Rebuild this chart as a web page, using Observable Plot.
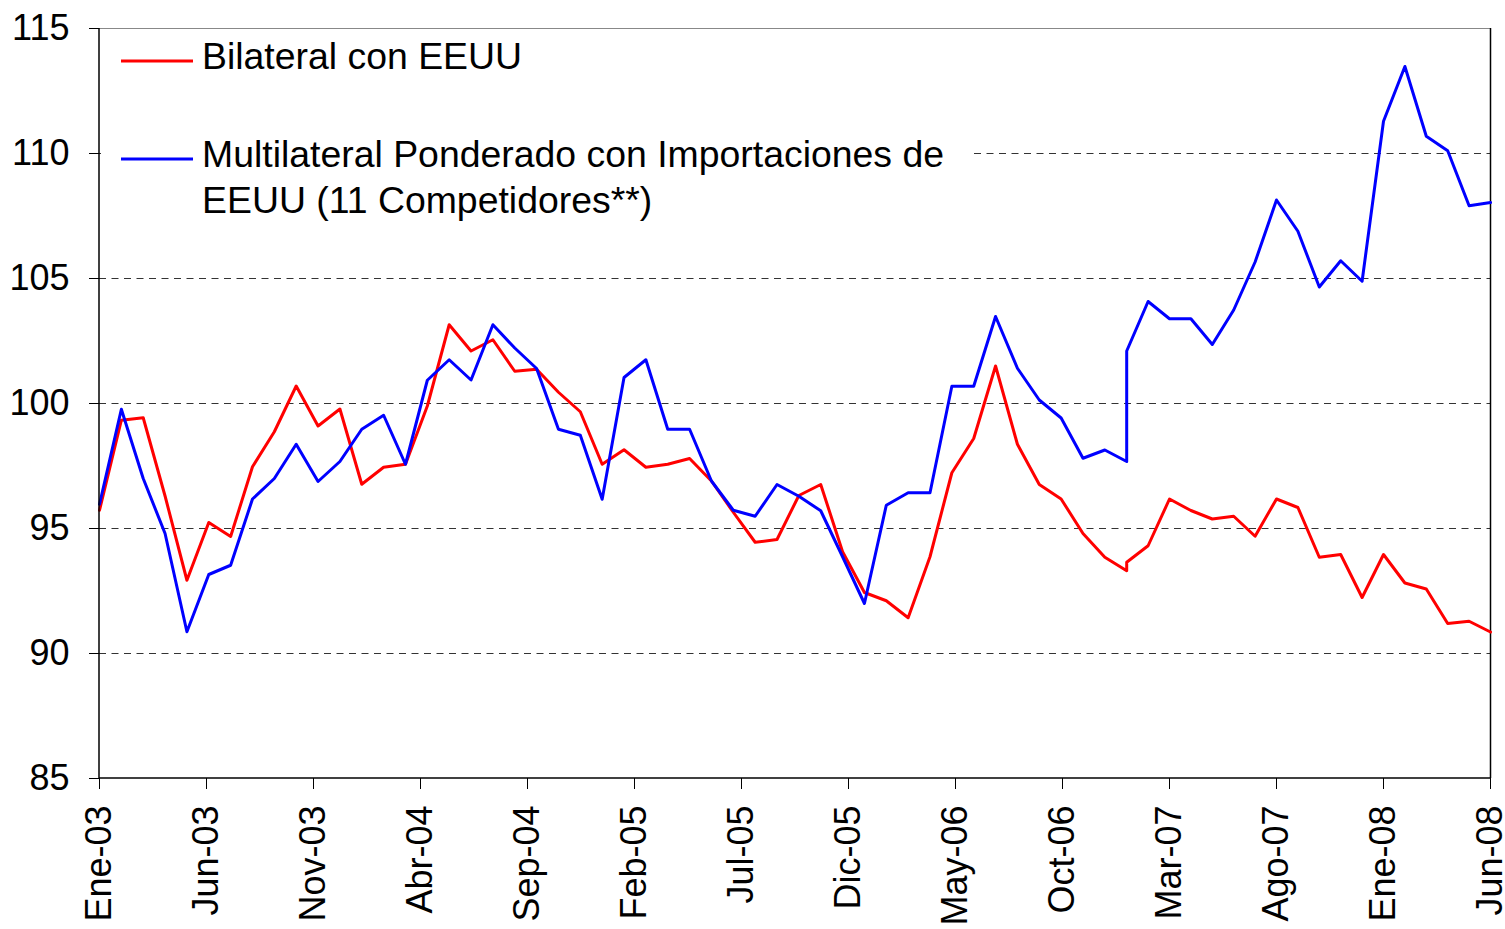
<!DOCTYPE html>
<html>
<head>
<meta charset="utf-8">
<script src="https://cdn.jsdelivr.net/npm/d3@7"></script>
<script src="https://cdn.jsdelivr.net/npm/@observablehq/plot@0.6"></script>
<style>
  html, body { margin: 0; padding: 0; background: #fff; }
  #chart svg { display: block; }
</style>
</head>
<body>
<div id="chart"></div>
<script>
// X axis tick labels (every 5 months)
const tickLabels = ["Ene-03","Jun-03","Nov-03","Abr-04","Sep-04","Feb-05","Jul-05","Dic-05","May-06","Oct-06","Mar-07","Ago-07","Ene-08","Jun-08"];

// Series names
const seriesNames = ["Bilateral con EEUU", "Multilateral Ponderado con Importaciones de EEUU (11 Competidores**)"];

// First segment (old base): 48 values spread from Ene-03 to Ene-07
const bilateralOld = [95.73,99.33,99.43,96.3,92.93,95.24,94.68,97.47,98.87,100.7,99.1,99.78,
  96.77,97.45,97.57,99.9,103.15,102.1,102.55,101.29,101.37,100.45,99.67,97.57,
  98.15,97.45,97.57,97.8,96.9,95.65,94.45,94.56,96.32,96.76,94.07,92.44,
  92.11,91.43,93.87,97.23,98.6,101.5,98.37,96.76,96.18,94.8,93.85,93.31];
const multilateralOld = [95.97,99.77,97.0,94.8,90.87,93.16,93.53,96.18,97.0,98.37,96.88,97.68,
  98.97,99.53,97.57,100.93,101.75,100.94,103.15,102.22,101.4,98.97,98.73,96.17,
  101.04,101.75,98.97,98.97,96.9,95.73,95.49,96.76,96.29,95.71,93.87,92.0,
  95.93,96.43,96.43,100.69,100.69,103.48,101.41,100.14,99.42,97.81,98.14,97.68];

// Second segment (new base): monthly Ene-07 .. Jun-08
const bilateralNew = [93.65,94.31,96.18,95.72,95.38,95.49,94.69,96.18,95.84,93.85,93.96,92.24,
  93.96,92.82,92.58,91.2,91.29,90.86];
const multilateralNew = [102.1,104.08,103.39,103.39,102.36,103.74,105.66,108.14,106.89,104.66,105.71,104.89,
  111.29,113.48,110.69,110.11,107.91,108.04];

const yTicks = [85, 90, 95, 100, 105, 110, 115];
const gridValues = [90, 95, 100, 105, 110];

// Build the table (x = months since Ene-03)
const monthsOld = 48; // Ene-03 -> Ene-07
function buildSeries(name, oldVals, newVals) {
  const rows = [];
  oldVals.forEach((v, i) => rows.push({series: name, m: i * monthsOld / (oldVals.length - 1), v}));
  newVals.forEach((v, i) => rows.push({series: name, m: monthsOld + i, v}));
  return rows;
}
const data = [
  ...buildSeries(seriesNames[0], bilateralOld, bilateralNew),
  ...buildSeries(seriesNames[1], multilateralOld, multilateralNew)
];
const tickPos = tickLabels.map((_, i) => i * 5);

const chart = Plot.plot({
  width: 1505,
  height: 929,
  marginLeft: 99,
  marginRight: 15,
  marginTop: 28,
  marginBottom: 151,
  style: {fontFamily: "'Liberation Sans', Arial, sans-serif", fontSize: "36px", color: "#000", background: "#fff"},
  x: {domain: [0, 65]},
  y: {domain: [85, 115]},
  color: {domain: seriesNames, range: ["#FF0000", "#0000FF"]},
  marks: [
    Plot.ruleY(gridValues, {stroke: "#333", strokeWidth: 1, strokeDasharray: "7,5.5"}),
    Plot.ruleY([115], {stroke: "#888", strokeWidth: 1.2}),
    Plot.ruleX([65], {stroke: "#000", strokeWidth: 1.5}),
    Plot.line(data, {x: "m", y: "v", z: "series", stroke: "series", strokeWidth: 3, strokeLinejoin: "round"}),
    Plot.axisY({ticks: yTicks, tickSize: 10, tickPadding: 20, label: null, fontSize: 36}),
    Plot.axisX({ticks: tickPos, tickFormat: d => tickLabels[Math.round(d / 5)], tickSize: 11, tickPadding: 16, tickRotate: -90, label: null, fontSize: 36})
  ]
});

document.getElementById("chart").append(chart);

// In-plot legend (white box covering grid lines)
const svg = d3.select(chart);
const lg = svg.append("g")
  .attr("font-family", "'Liberation Sans', Arial, sans-serif")
  .attr("font-size", 37.4)
  .attr("text-anchor", "start")
  .attr("fill", "#000");
lg.append("rect").attr("x", 101).attr("y", 30).attr("width", 869).attr("height", 200).attr("fill", "#fff");
const legendItems = [
  {color: "#FF0000", ly: 61, lines: [seriesNames[0]], ty: 69},
  {color: "#0000FF", ly: 159, lines: ["Multilateral Ponderado con Importaciones de", "EEUU (11 Competidores**)"], ty: 167}
];
legendItems.forEach(it => {
  lg.append("line").attr("x1", 121).attr("x2", 193).attr("y1", it.ly).attr("y2", it.ly)
    .attr("stroke", it.color).attr("stroke-width", 3);
  it.lines.forEach((t, j) => {
    lg.append("text").attr("x", 202).attr("y", it.ty + j * 46).attr("text-anchor", "start").text(t);
  });
});

// Axis lines drawn on top
const x0 = 99, x1 = 1490, y0 = 778, yTop = 28;
svg.append("line").attr("x1", x0).attr("x2", x0).attr("y1", yTop).attr("y2", y0).attr("stroke", "#000").attr("stroke-width", 1.5);
svg.append("line").attr("x1", x0).attr("x2", x1).attr("y1", y0).attr("y2", y0).attr("stroke", "#000").attr("stroke-width", 1.5);
</script>
</body>
</html>
